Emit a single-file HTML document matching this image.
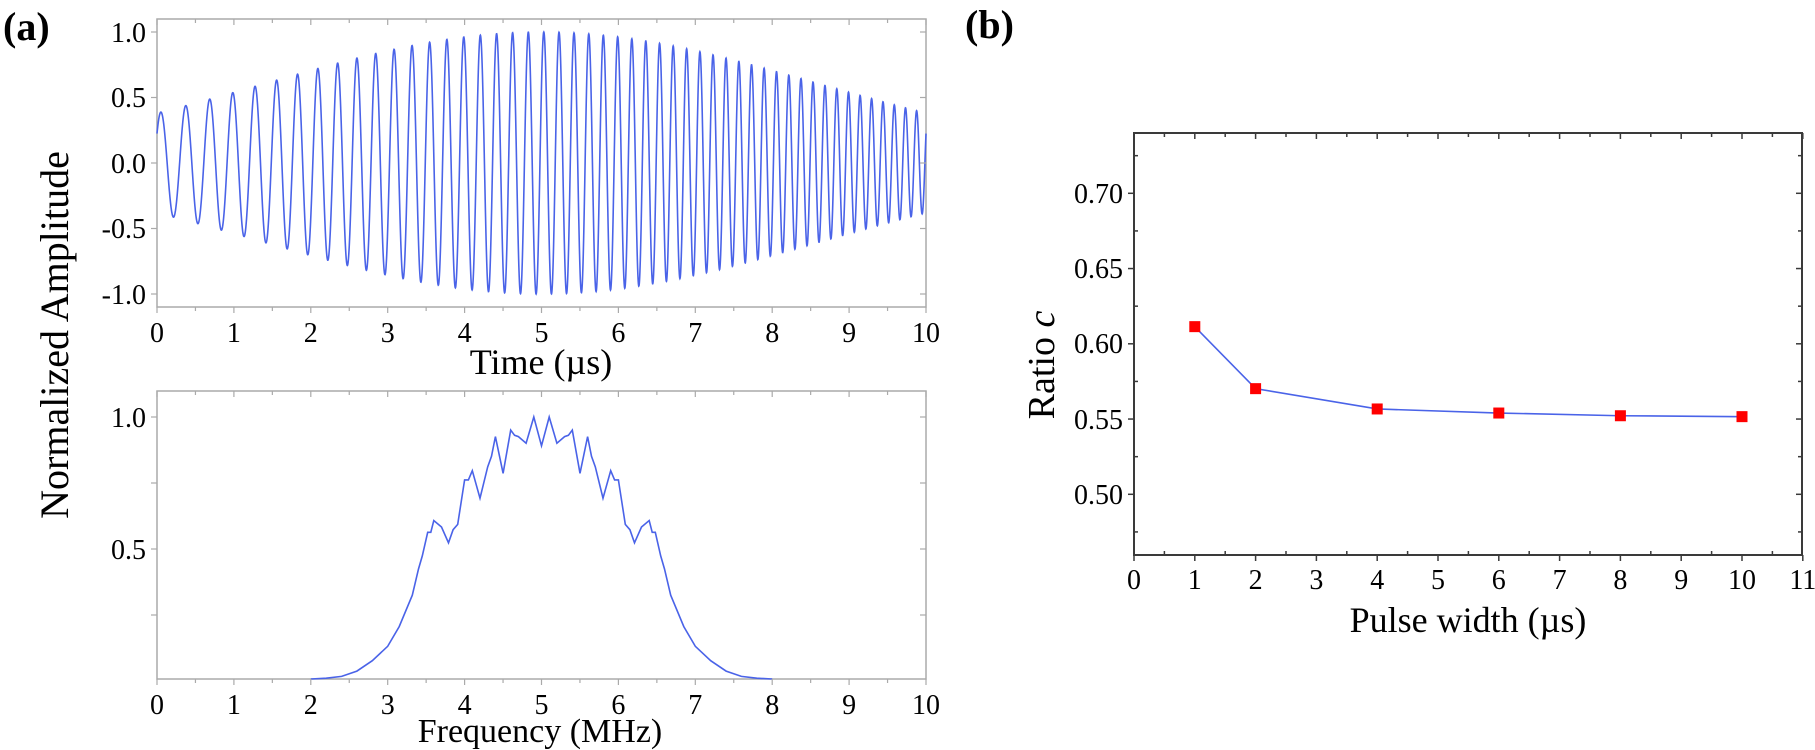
<!DOCTYPE html>
<html><head><meta charset="utf-8"><style>
html,body{margin:0;padding:0;background:#fff;}
svg{display:block;font-family:"Liberation Serif",serif;}
</style></head><body>
<svg id="s" width="1815" height="750" viewBox="0 0 1815 750" xmlns="http://www.w3.org/2000/svg">
<rect width="1815" height="750" fill="#fff"/>
<text x="3" y="40" font-size="40" font-weight="bold">(a)</text>
<text x="965" y="38" font-size="40" font-weight="bold">(b)</text>
<text transform="translate(68,335) rotate(-90)" font-size="40" text-anchor="middle">Normalized Amplitude</text>

<g id="top" stroke="#aaa" stroke-width="1.5" fill="none">
<rect x="157" y="19" width="769" height="288"/>
</g>
<g font-size="28" text-anchor="end">
<text x="146" y="42">1.0</text>
<text x="146" y="107">0.5</text>
<text x="146" y="173">0.0</text>
<text x="146" y="238">-0.5</text>
<text x="146" y="304">-1.0</text>
</g>
<g id="topx" font-size="28" text-anchor="middle"></g>
<text x="541" y="374" font-size="36" text-anchor="middle">Time (µs)</text>
<path id="chirp" fill="none" stroke="#4a63e8" stroke-width="1.6"/>

<rect x="157" y="391" width="769" height="288" fill="none" stroke="#aaa" stroke-width="1.5"/>
<g font-size="28" text-anchor="end">
<text x="146" y="427">1.0</text>
<text x="146" y="559">0.5</text>
</g>
<g id="botx" font-size="28" text-anchor="middle"></g>
<text x="540" y="742" font-size="34" text-anchor="middle">Frequency (MHz)</text>
<path id="spec" fill="none" stroke="#4a63e8" stroke-width="1.6"/>

<rect x="1134" y="133" width="668" height="422" fill="none" stroke="#3a3a3a" stroke-width="2"/>
<g id="rt" stroke="#3a3a3a" stroke-width="1.5"></g>
<g font-size="28" text-anchor="end">
<text x="1123" y="203">0.70</text>
<text x="1123" y="278">0.65</text>
<text x="1123" y="353">0.60</text>
<text x="1123" y="429">0.55</text>
<text x="1123" y="504">0.50</text>
</g>
<g id="rx" font-size="28" text-anchor="middle"></g>
<text transform="translate(1054,365) rotate(-90)" font-size="38" text-anchor="middle">Ratio <tspan font-style="italic">c</tspan></text>
<text x="1468" y="632" font-size="36" text-anchor="middle">Pulse width (µs)</text>
<polyline id="rl" fill="none" stroke="#4a63e8" stroke-width="1.6"/>
<g id="rm" fill="#f00"></g>
</svg>
<script>
var NS="http://www.w3.org/2000/svg";
function el(p,t,a,txt){var e=document.createElementNS(NS,t);for(var k in a)e.setAttribute(k,a[k]);if(txt!=null)e.textContent=txt;document.getElementById(p).appendChild(e);return e;}
var svg="s";
function leftTicks(top,bot,yt,gid){
  for(var i=0;i<=20;i++){var x=157+76.9*i/2;var L=(i%2==0)?6:4;
    el(svg,"line",{x1:x,y1:top,x2:x,y2:top+L,stroke:"#aaa","stroke-width":1.2});
    el(svg,"line",{x1:x,y1:bot,x2:x,y2:bot+L,stroke:"#aaa","stroke-width":1.2});
    if(i%2==0) el(gid,"text",{x:x,y:bot+35},String(i/2));
  }
  yt.forEach(function(y){el(svg,"line",{x1:151,y1:y,x2:157,y2:y,stroke:"#aaa","stroke-width":1.2});
    el(svg,"line",{x1:920,y1:y,x2:926,y2:y,stroke:"#aaa","stroke-width":1.2});});
}
leftTicks(19,307,[32,97.5,163,228.5,294],"topx");
leftTicks(391,679,[417,483,549,615],"botx");
var d="";for(var i=0;i<=4000;i++){var t=i/400;var env=Math.exp(-Math.pow((t-5)/3.6,2)/2);
 var v=env*Math.cos(2*Math.PI*(3*t+0.2*t*t)-0.94);
 d+=(i?"L":"M")+(157+76.9*t).toFixed(2)+" "+(163-131*v).toFixed(2);}
document.getElementById("chirp").setAttribute("d",d);
var P=[[2.0,0],[2.2,0.003],[2.4,0.01],[2.6,0.03],[2.8,0.07],[3.0,0.125],[3.15,0.2],[3.32,0.32],[3.4,0.42],[3.45,0.47],[3.52,0.56],[3.56,0.56],[3.6,0.605],[3.7,0.58],[3.79,0.52],[3.85,0.57],[3.91,0.59],[4.0,0.76],[4.05,0.76],[4.1,0.795],[4.2,0.69],[4.3,0.81],[4.35,0.85],[4.4,0.925],[4.5,0.785],[4.6,0.95],[4.65,0.93],[4.7,0.925],[4.8,0.90],[4.9,1.0],[5.0,0.89]];
var pts=P.slice();for(var j=P.length-2;j>=0;j--)pts.push([10-P[j][0],P[j][1]]);
var ds="";pts.forEach(function(p,i){ds+=(i?"L":"M")+(157+76.9*p[0]).toFixed(1)+" "+(679-262*p[1]).toFixed(1);});
document.getElementById("spec").setAttribute("d",ds);
function X(p){return 1134+60.8*p;} function Y(c){return 193.3-(c-0.70)*1505;}
for(var i=0;i<=22;i++){var x=X(i/2);
  if(i%2==0){el("rt","line",{x1:x,y1:555,x2:x,y2:561});el("rt","line",{x1:x,y1:133,x2:x,y2:139});el("rx","text",{x:x,y:589},String(i/2));}
  else{el("rt","line",{x1:x,y1:555,x2:x,y2:551});el("rt","line",{x1:x,y1:133,x2:x,y2:137});}
}
for(var k=0;k<12;k++){var c=0.475+k*0.025;var y=Y(c);if(y<135||y>553)continue;var major=(k%2==1);
  if(major){el("rt","line",{x1:1128,y1:y,x2:1134,y2:y});el("rt","line",{x1:1802,y1:y,x2:1796,y2:y});}
  else{el("rt","line",{x1:1134,y1:y,x2:1138,y2:y});el("rt","line",{x1:1802,y1:y,x2:1798,y2:y});}
}
var D=[[1,0.6114],[2,0.5702],[4,0.5567],[6,0.5540],[8,0.5522],[10,0.5516]];
document.getElementById("rl").setAttribute("points",D.map(function(p){return X(p[0])+","+Y(p[1]);}).join(" "));
D.forEach(function(p){el("rm","rect",{x:X(p[0])-5.5,y:Y(p[1])-5.5,width:11,height:11});});
</script>
</body></html>
